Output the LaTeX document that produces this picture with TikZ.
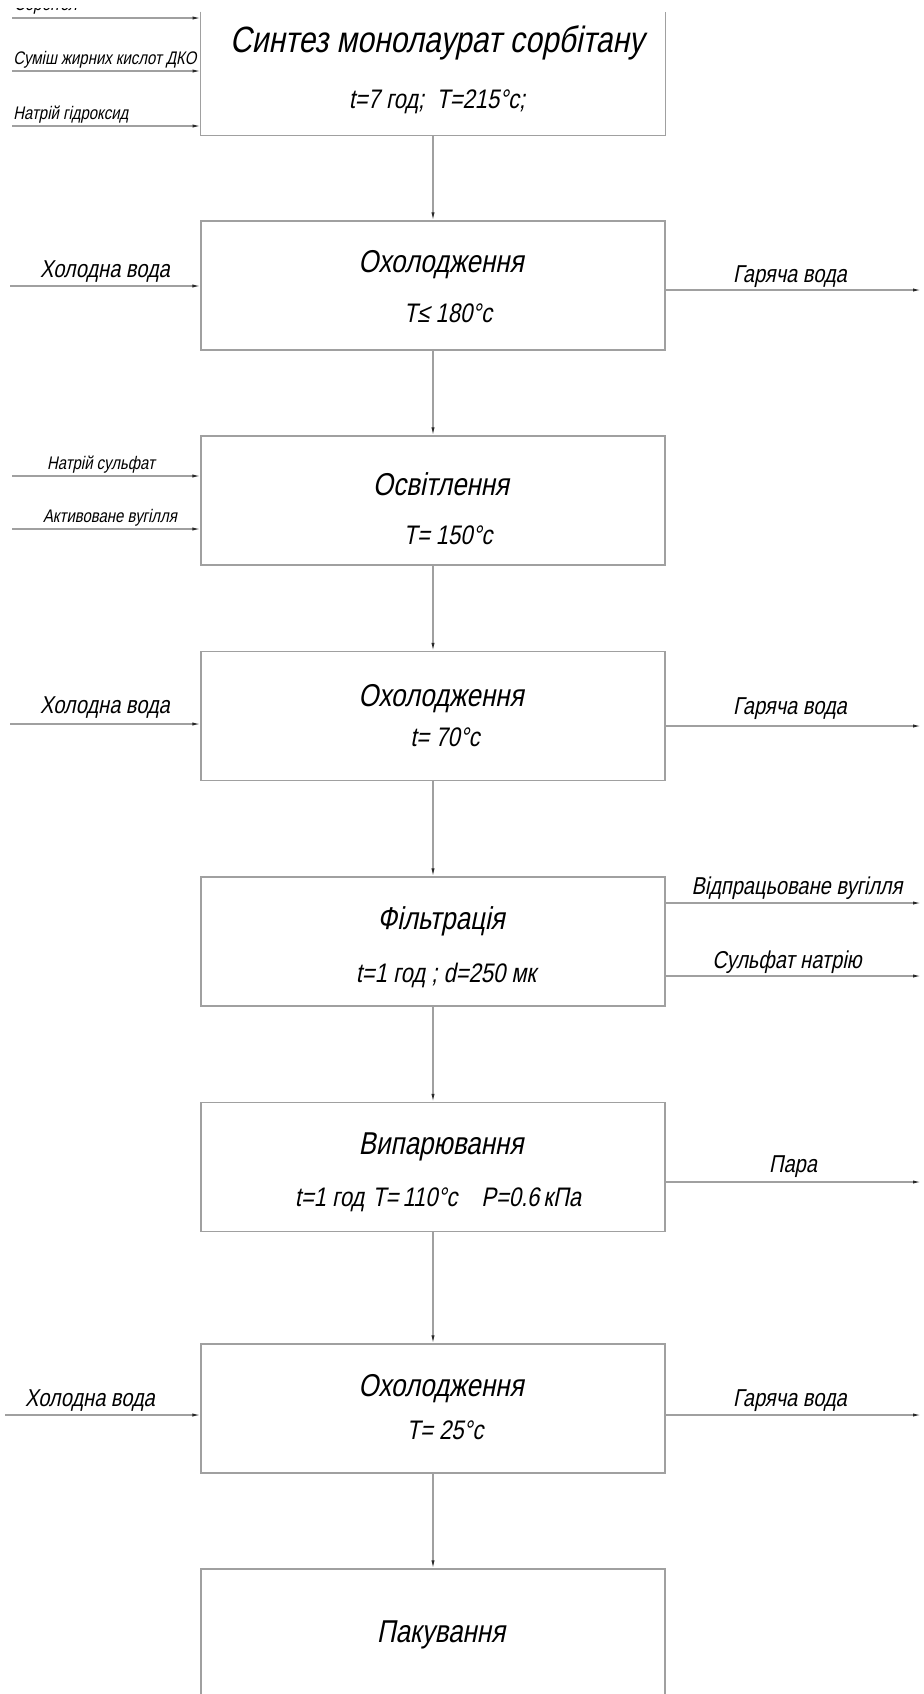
\documentclass[tikz,border=0pt]{standalone}
\usepackage{fontspec}
\setmainfont{Liberation Sans}[FakeSlant=0.2,FakeStretch=0.82]
\usetikzlibrary{arrows.meta}
\definecolor{ln}{RGB}{160,160,160}
\definecolor{tipc}{RGB}{40,40,40}
\newcommand{\fsz}[1]{\fontsize{#1}{#1}\selectfont}
\tikzset{
  boxn/.style={minimum width=232pt, minimum height=64.5pt, inner sep=0pt, draw=ln, line width=0.6pt},
  boxopen/.style={minimum width=232pt, minimum height=61.5pt, inner sep=0pt},
  boxline/.style={draw=ln, line width=0.6pt},
  arr/.style={draw=ln, line width=0.55pt, -{Latex[length=4pt,width=1.6pt,color=tipc]}},
  ttl/.style={font=\fsz{15.8}, inner sep=0pt},
  bigttl/.style={font=\fsz{18.3}, inner sep=0pt},
  sub/.style={font=\fsz{13.4}, inner sep=0pt},
  lbl/.style={font=\fsz{12.2}, inner sep=0pt},
  sml/.style={font=\fsz{9.1}, inner sep=0pt},
}
\begin{document}
\begin{tikzpicture}[x=0.5pt,y=-0.5pt]
\useasboundingbox[fill=white] (0,0) rectangle (923,1694);

% boxes
\node[boxopen] (b1) at (433,73.5) {};
\draw[boxline] (b1.north west) -- (b1.south west) -- (b1.south east) -- (b1.north east);
\node[boxn] (b2) at (433,285.5) {};
\node[boxn] (b3) at (433,500.5) {};
\node[boxn] (b4) at (433,716) {};
\node[boxn] (b5) at (433,941.5) {};
\node[boxn] (b6) at (433,1167) {};
\node[boxn] (b7) at (433,1408.5) {};
\node[boxn] (b8) at (433,1633.5) {};

% titles
\node[bigttl] (t1) at (437,43) {Синтез монолаурат сорбітану};
\node[sub] (s1) at (437,102) {t=7 год;\ \ T=215°c;};
\node[ttl] (t2) at (441,265) {Охолодження};
\node[sub] (s2) at (448,313) {T≤ 180°c};
\node[ttl] (t3) at (441,484) {Освітлення};
\node[sub] (s3) at (448,535) {T= 150°c};
\node[ttl] (t4) at (441,699) {Охолодження};
\node[sub] (s4) at (445,737) {t= 70°c};
\node[ttl] (t5) at (441,921) {Фільтрація};
\node[sub] (s5) at (446,975) {t=1 год ; d=250 мк};
\node[ttl] (t6) at (441,1147) {Випарювання};
\node[sub] (s6) at (438,1200) {t=1 год\hspace{4pt}T=\hspace{2pt}110°c\hspace{12pt}P=0.6\hspace{2pt}кПа};
\node[ttl] (t7) at (441,1389) {Охолодження};
\node[sub] (s7) at (445,1430) {T= 25°c};
\node[ttl] (t8) at (441,1635) {Пакування};

% vertical flow
\draw[arr] (b1.south) -- (b2.north);
\draw[arr] (b2.south) -- (b3.north);
\draw[arr] (b3.south) -- (b4.north);
\draw[arr] (b4.south) -- (b5.north);
\draw[arr] (b5.south) -- (b6.north);
\draw[arr] (b6.south) -- (b7.north);
\draw[arr] (b7.south) -- (b8.north);

% inputs to box 1
\coordinate (i1a) at (12,18);
\coordinate (i1b) at (12,71);
\coordinate (i1c) at (12,126);
\draw[arr] (i1a) -- (i1a -| b1.west);
\draw[arr] (i1b) -- (i1b -| b1.west);
\draw[arr] (i1c) -- (i1c -| b1.west);
\begin{scope}
\clip (0,8) rectangle (200,30);
\node[sml, anchor=base west] (l1a) at (14,10.5) {Сорбітол};
\end{scope}
\node[sml, anchor=west] (l1b) at (13,60) {Суміш жирних кислот ДКО};
\node[sml, anchor=west] (l1c) at (13,115) {Натрій гідроксид};

% box 2
\coordinate (i2) at (10,286);
\coordinate (o2) at (921,290);
\draw[arr] (i2) -- (i2 -| b2.west);
\draw[arr] (o2 -| b2.east) -- (o2);
\node[lbl] (l2) at (105,272) {Холодна вода};
\node[lbl] (r2) at (790,277) {Гаряча вода};

% box 3
\coordinate (i3a) at (12,476);
\coordinate (i3b) at (12,529);
\draw[arr] (i3a) -- (i3a -| b3.west);
\draw[arr] (i3b) -- (i3b -| b3.west);
\node[sml] (l3a) at (101,465) {Натрій сульфат};
\node[sml] (l3b) at (110,518) {Активоване вугілля};

% box 4
\coordinate (i4) at (10,724);
\coordinate (o4) at (921,726);
\draw[arr] (i4) -- (i4 -| b4.west);
\draw[arr] (o4 -| b4.east) -- (o4);
\node[lbl] (l4) at (105,708) {Холодна вода};
\node[lbl] (r4) at (790,709) {Гаряча вода};

% box 5
\coordinate (o5a) at (921,903);
\coordinate (o5b) at (921,976);
\draw[arr] (o5a -| b5.east) -- (o5a);
\draw[arr] (o5b -| b5.east) -- (o5b);
\node[lbl] (r5a) at (797,888) {Відпрацьоване вугілля};
\node[lbl] (r5b) at (787,962) {Сульфат натрію};

% box 6
\coordinate (o6) at (921,1182);
\draw[arr] (o6 -| b6.east) -- (o6);
\node[lbl] (r6) at (793,1167) {Пара};

% box 7
\coordinate (i7) at (5,1415);
\coordinate (o7) at (921,1415);
\draw[arr] (i7) -- (i7 -| b7.west);
\draw[arr] (o7 -| b7.east) -- (o7);
\node[lbl] (l7) at (90,1401) {Холодна вода};
\node[lbl] (r7) at (790,1401) {Гаряча вода};
\end{tikzpicture}
\end{document}
